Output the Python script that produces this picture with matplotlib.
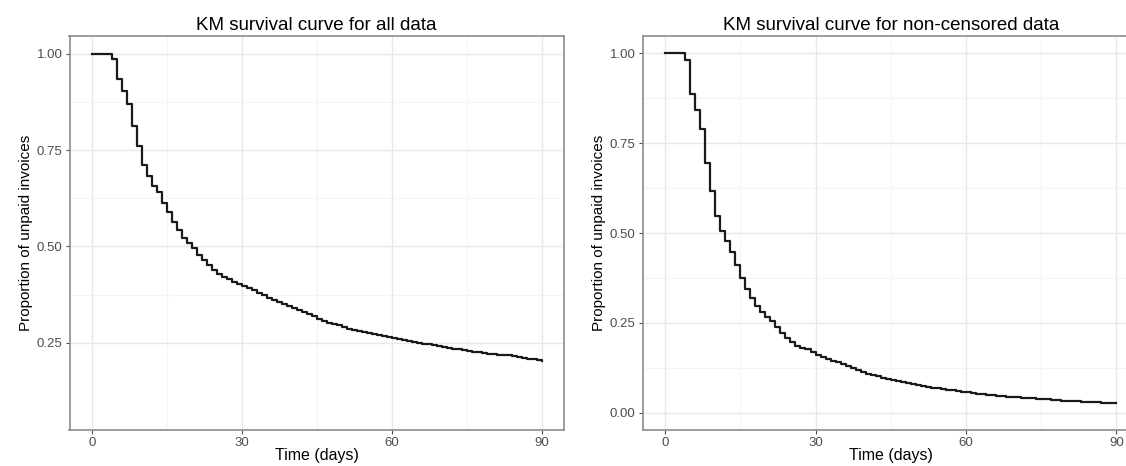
import numpy as np
import matplotlib
matplotlib.use("Agg")
import matplotlib.pyplot as plt

plt.rcParams['font.family'] = ['Liberation Sans', 'DejaVu Sans']

# days 0..90, KM estimates (one step per day)
days = list(range(91))

surv_all = [1.0, 1.0, 1.0, 1.0, 0.987, 0.934, 0.904, 0.869, 0.812, 0.761,
            0.712, 0.683, 0.657, 0.641, 0.613, 0.589, 0.563, 0.542, 0.523, 0.510,
            0.497, 0.478, 0.464, 0.451, 0.438, 0.428, 0.421, 0.415, 0.409, 0.403,
            0.398, 0.391, 0.386, 0.380, 0.374, 0.367, 0.361, 0.356, 0.350, 0.345,
            0.341, 0.335, 0.330, 0.325, 0.320, 0.312, 0.306, 0.302, 0.298, 0.295,
            0.291, 0.287, 0.284, 0.281, 0.278, 0.275, 0.273, 0.270, 0.268, 0.266,
            0.263, 0.260, 0.257, 0.255, 0.252, 0.250, 0.248, 0.246, 0.243, 0.241,
            0.239, 0.237, 0.235, 0.233, 0.231, 0.229, 0.227, 0.225, 0.223, 0.221,
            0.220, 0.219, 0.218, 0.217, 0.215, 0.213, 0.211, 0.209, 0.207, 0.204,
            0.202]

surv_noncens = [1.0, 1.0, 1.0, 1.0, 0.981, 0.886, 0.842, 0.789, 0.696, 0.618,
                0.548, 0.506, 0.477, 0.446, 0.411, 0.376, 0.345, 0.320, 0.296, 0.279,
                0.267, 0.255, 0.239, 0.223, 0.208, 0.196, 0.187, 0.181, 0.176, 0.170,
                0.160, 0.155, 0.150, 0.145, 0.140, 0.135, 0.130, 0.124, 0.118, 0.113,
                0.109, 0.105, 0.101, 0.098, 0.094, 0.091, 0.088, 0.085, 0.082, 0.079,
                0.077, 0.075, 0.072, 0.070, 0.068, 0.066, 0.064, 0.062, 0.060, 0.059,
                0.057, 0.055, 0.053, 0.052, 0.050, 0.049, 0.047, 0.046, 0.045, 0.044,
                0.043, 0.042, 0.041, 0.040, 0.039, 0.038, 0.037, 0.036, 0.035, 0.034,
                0.033, 0.033, 0.032, 0.031, 0.031, 0.030, 0.029, 0.028, 0.028, 0.027,
                0.027]

xticks = [0, 30, 60, 90]
xminor = [15, 45, 75]
yticks_all = [0.25, 0.50, 0.75, 1.00]
yminor_all = [0.375, 0.625, 0.875]
yticks_nc = [0.00, 0.25, 0.50, 0.75, 1.00]
yminor_nc = [0.125, 0.375, 0.625, 0.875]

titles = ["KM survival curve for all data", "KM survival curve for non-censored data"]

W, H = 1126, 466
fig = plt.figure(figsize=(W / 100, H / 100), dpi=100)
ax1 = fig.add_axes([69.5 / W, 1 - 430 / H, (564 - 69.5) / W, (430 - 36) / H])
ax2 = fig.add_axes([642.5 / W, 1 - 430 / H, (1139 - 642.5) / W, (430 - 36) / H])


def style(ax, y, yt, ym, ylim, title):
    for v in xminor:
        ax.axvline(v, color='#f4f4f4', lw=0.8, zorder=0)
    for v in ym:
        ax.axhline(v, color='#f4f4f4', lw=0.8, zorder=0)
    for v in xticks:
        ax.axvline(v, color='#e8e8e8', lw=1.0, zorder=0)
    for v in yt:
        ax.axhline(v, color='#e8e8e8', lw=1.0, zorder=0)
    ax.step(days, y, where='post', color='#1a1a1a', lw=1.6, zorder=3)
    ax.set_xlim(-4.5, 94.5)
    ax.set_ylim(*ylim)
    ax.set_xticks(xticks)
    ax.set_yticks(yt)
    ax.set_yticklabels(['%.2f' % v for v in yt])
    ax.tick_params(colors='#4d4d4d', labelsize=9.5, length=3, width=0.8,
                   labelcolor='#4d4d4d', pad=2)
    for s in ax.spines.values():
        s.set_color('#8c8c8c')
        s.set_linewidth(1.2)
    ax.set_title(title, fontsize=13.5, pad=4)
    ax.set_xlabel('Time (days)', fontsize=11.5, labelpad=-1)
    ax.set_ylabel('Proportion of unpaid invoices', fontsize=11, labelpad=3)


style(ax1, surv_all, yticks_all, yminor_all, (0.0235, 1.0465), titles[0])
style(ax2, surv_noncens, yticks_nc, yminor_nc, (-0.048, 1.048), titles[1])

fig.savefig('out.png', dpi=100)
